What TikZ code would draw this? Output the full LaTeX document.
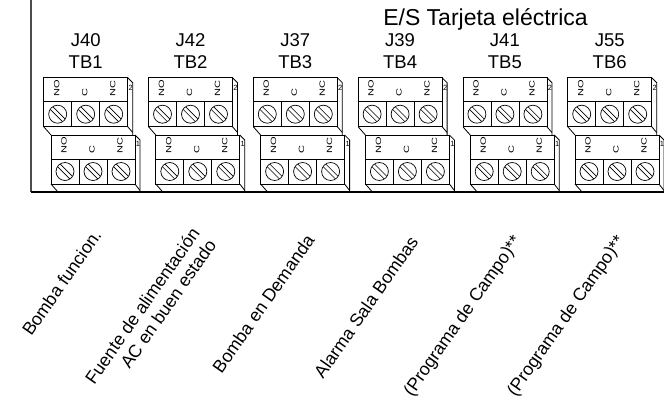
\documentclass[tikz,border=0pt]{standalone}
\usepackage{fontspec}
\setmainfont{Liberation Sans}
\usetikzlibrary{calc}
\begin{document}
\begin{tikzpicture}[x=1pt,y=-1pt]
\tikzset{
  blk/.style={draw=black, line width=0.8pt},
  frame/.style={line width=1.4pt},
  pinlbl/.style={rotate=90, anchor=west, inner sep=0pt, font=\fontsize{7.6}{8}\selectfont},
  hdr/.style={anchor=base, inner sep=0pt, font=\fontsize{18.5}{20}\selectfont},
  ttl/.style={anchor=base east, inner sep=0pt, font=\fontsize{23}{25}\selectfont},
  num/.style={inner sep=0pt, font=\fontsize{7.5}{8}\selectfont},
  screw/.style={circle, draw, line width=0.7pt, minimum size=18pt, inner sep=0pt},
  slot/.style={line width=0.6pt},
  lbl/.style={rotate=55, anchor=base east, inner sep=0pt, font=\fontsize{17.8}{20}\selectfont},
  lbltwo/.style={rotate=55, anchor=north east, inner sep=0pt, align=right, font=\fontsize{17.8}{20}\selectfont}
}
\useasboundingbox (0,0) rectangle (664,400);
% frame
\draw[frame, black!70] (31,0) -- (31,192);
\draw[frame] (31,192) -- (664,192);
\node[ttl] (title) at (588,25) {E/S Tarjeta eléctrica};
\foreach \J/\T [count=\k from 0] in {J40/TB1,J42/TB2,J37/TB3,J39/TB4,J41/TB5,J55/TB6}{
  \pgfmathsetmacro\xo{43.7+104.8*\k}
  \pgfmathsetmacro\xl{\xo+7.3}
  \node[hdr] (j\k) at (\xo+42,46.7) {\J};
  \node[hdr] (tb\k) at (\xo+42,68.5) {\T};
  % upper block
  \draw[blk] (\xo,77.7) rectangle (\xo+84,126.7);
  \draw[blk] (\xo,101.7) -- (\xo+84,101.7);
  \draw[blk] (\xo+28,101.7) -- (\xo+28,126.7) (\xo+56,101.7) -- (\xo+56,126.7);
  \draw[blk] (\xo+84,77.7) -- (\xo+89,82.7) -- (\xo+89,135);
  \draw[blk] (\xo+84,126.7) -- (\xo+89,132.5);
  \draw[blk] (\xo,126.7) -- (\xl,135);
  % lower block
  \draw[blk] (\xl,135) rectangle (\xl+84,184);
  \draw[blk] (\xl,159) -- (\xl+84,159);
  \draw[blk] (\xl+28,159) -- (\xl+28,184) (\xl+56,159) -- (\xl+56,184);
  \draw[blk] (\xl+84,135) -- (\xl+89,140) -- (\xl+89,192);
  \draw[blk] (\xl+84,184) -- (\xl+89,190.5);
  \draw[blk] (\xl,184) -- (\xl+7,192);
  \node[num] (two\k) at (\xo+87,88.3) {2};
  \node[num] (one\k) at (\xl+87,143.5) {1};
  \foreach \p/\c in {NO/0,C/1,NC/2}{
    \pgfmathsetmacro\cx{\xo+14+28*\c}
    \pgfmathsetmacro\cxl{\xl+14+28*\c}
    \node[pinlbl] (pu\k\c) at (\cx-1,96.5) {\scalebox{1.45}[1]{\p}};
    \node[pinlbl] (pl\k\c) at (\cxl-1,153.8) {\scalebox{1.45}[1]{\p}};
    \node[screw] (su\k\c) at (\cx,114.2) {};
    \node[screw] (sl\k\c) at (\cxl,171.5) {};
    \draw[slot] ($(su\k\c)+(-4.7,-7.3)$) -- ($(su\k\c)+(7.3,4.7)$);
    \draw[slot] ($(su\k\c)+(-7.3,-4.7)$) -- ($(su\k\c)+(4.7,7.3)$);
    \draw[slot] ($(sl\k\c)+(-4.7,-7.3)$) -- ($(sl\k\c)+(7.3,4.7)$);
    \draw[slot] ($(sl\k\c)+(-7.3,-4.7)$) -- ($(sl\k\c)+(4.7,7.3)$);
  }
}
\node[lbl] (l0) at (102.4,235.5) {Bomba funcion.};
\node[lbltwo] (l1) at (189.8,225.8) {Fuente de alimentación\\AC en buen estado};
\node[lbl] (l2) at (315.5,240.3) {Bomba en Demanda};
\node[lbl] (l3) at (419.2,242) {Alarma Sala Bombas};
\node[lbl] (l4) at (522,240.5) {(Programa de Campo)**};
\node[lbl] (l5) at (625.4,240.5) {(Programa de Campo)**};
\end{tikzpicture}
\end{document}
